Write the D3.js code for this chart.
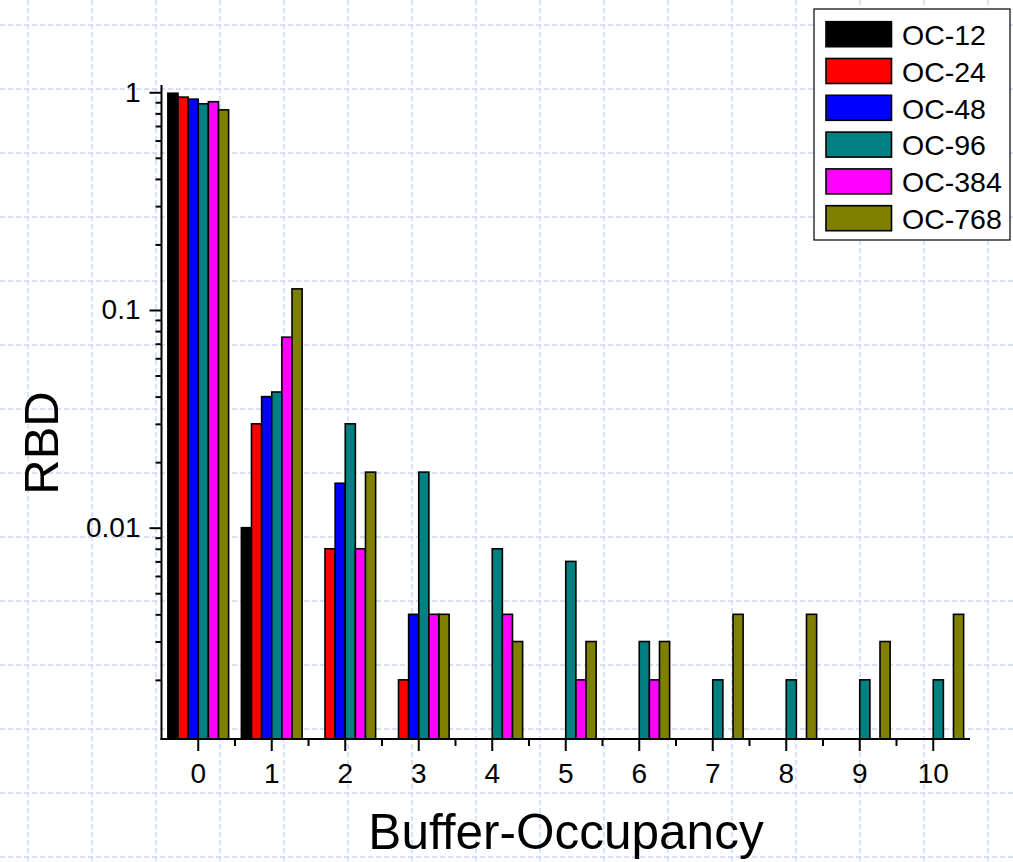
<!DOCTYPE html>
<html>
<head>
<meta charset="utf-8">
<script src="https://cdn.jsdelivr.net/npm/d3@7"></script>
<style>
  html, body { margin: 0; padding: 0; background: #ffffff; }
  svg { display: block; }
  text { font-family: "Liberation Sans", Arial, sans-serif; fill: #000; }
</style>
</head>
<body>
<svg id="chart" width="1013" height="862"></svg>
<script>
// Buffer occupancy categories and RBD per line rate
const categories = ["0", "1", "2", "3", "4", "5", "6", "7", "8", "9", "10"];
const seriesNames = ["OC-12", "OC-24", "OC-48", "OC-96", "OC-384", "OC-768"];
const seriesColors = ["#000000", "#ff0000", "#0000ff", "#008080", "#ff00ff", "#808000"];

const oc12  = [0.99, 0.01, null, null, null, null, null, null, null, null, null];
const oc24  = [0.95, 0.03, 0.008, 0.002, null, null, null, null, null, null, null];
const oc48  = [0.93, 0.04, 0.016, 0.004, null, null, null, null, null, null, null];
const oc96  = [0.885, 0.042, 0.03, 0.018, 0.008, 0.007, 0.003, 0.002, 0.002, 0.002, 0.002];
const oc384 = [0.905, 0.075, 0.008, 0.004, 0.004, 0.002, 0.002, null, null, null, null];
const oc768 = [0.83, 0.125, 0.018, 0.004, 0.003, 0.003, 0.003, 0.004, 0.004, 0.003, 0.004];

const yMajorTicks = [1, 0.1, 0.01];
const yTickLabels = ["1", "0.1", "0.01"];

const seriesValues = [oc12, oc24, oc48, oc96, oc384, oc768];

const W = 1013, H = 862;
const svg = d3.select("#chart");

// Graph-paper backdrop
const grid = svg.append("g")
  .attr("stroke", "#c8d6f6")
  .attr("stroke-width", 1.4)
  .attr("stroke-dasharray", "5,3");
grid.selectAll("line.v").data(d3.range(28, W, 64)).join("line")
  .attr("class", "v").attr("x1", d => d).attr("x2", d => d).attr("y1", 0).attr("y2", H);
grid.selectAll("line.h").data(d3.range(25, H, 64)).join("line")
  .attr("class", "h").attr("y1", d => d).attr("y2", d => d).attr("x1", 0).attr("x2", W);

// Scales
const plotLeft = 161.5, plotRight = 970, plotTop = 85, plotBottom = 739;
const x = d3.scaleBand().domain(categories).range([plotLeft, plotRight]).paddingInner(0).paddingOuter(0);
const xs = d3.scaleBand().domain(seriesNames).range([0, x.bandwidth()]).paddingInner(0).paddingOuter(0.63);
const y = d3.scaleLog().domain([0.00107, 1.08]).range([plotBottom, plotTop]);

// Bars
const bars = [];
seriesNames.forEach((s, si) => {
  seriesValues[si].forEach((v, ci) => {
    if (v != null) bars.push({ series: s, color: seriesColors[si], cat: categories[ci], value: v });
  });
});
svg.append("g").selectAll("rect").data(bars).join("rect")
  .attr("x", d => x(d.cat) + xs(d.series))
  .attr("width", xs.bandwidth())
  .attr("y", d => y(d.value))
  .attr("height", d => plotBottom - y(d.value))
  .attr("fill", d => d.color)
  .attr("stroke", "#000")
  .attr("stroke-width", 1.6);

// Y axis: major and minor log ticks
const minorY = [];
[0.001, 0.01, 0.1].forEach(dec => {
  for (let m = 2; m <= 9; m++) {
    const v = dec * m;
    if (v >= y.domain()[0] && v <= y.domain()[1]) minorY.push(v);
  }
});
const yMinor = svg.append("g").attr("transform", `translate(${plotLeft},0)`)
  .call(d3.axisLeft(y).tickValues(minorY).tickSize(6).tickFormat(""));
const yMajor = svg.append("g").attr("transform", `translate(${plotLeft},0)`)
  .call(d3.axisLeft(y).tickValues(yMajorTicks).tickSize(12).tickPadding(9)
    .tickFormat((d, i) => yTickLabels[i]));
[yMinor, yMajor].forEach(g => {
  g.selectAll(".tick line").attr("stroke", "#000").attr("stroke-width", 2);
  g.select(".domain").remove();
});
yMajor.selectAll(".tick text")
  .style("font-family", '"Liberation Sans", Arial, sans-serif')
  .style("font-size", "28px").attr("fill", "#000");

// X axis: major ticks at group centres, minor ticks at group boundaries
const xMajor = svg.append("g").attr("transform", `translate(0,${plotBottom})`)
  .call(d3.axisBottom(x).tickSize(12).tickPadding(12));
xMajor.select(".domain").remove();
xMajor.selectAll(".tick line").attr("stroke", "#000").attr("stroke-width", 2);
xMajor.selectAll(".tick text")
  .style("font-family", '"Liberation Sans", Arial, sans-serif')
  .style("font-size", "28px").attr("fill", "#000");

const boundaries = categories.slice(1).map(c => x(c));
svg.append("g").selectAll("line").data(boundaries).join("line")
  .attr("x1", d => d).attr("x2", d => d)
  .attr("y1", plotBottom).attr("y2", plotBottom + 7)
  .attr("stroke", "#000").attr("stroke-width", 2);

// Axis lines
svg.append("line").attr("x1", plotLeft).attr("x2", plotLeft)
  .attr("y1", plotTop).attr("y2", plotBottom + 1)
  .attr("stroke", "#000").attr("stroke-width", 2);
svg.append("line").attr("x1", plotLeft - 1).attr("x2", plotRight)
  .attr("y1", plotBottom).attr("y2", plotBottom)
  .attr("stroke", "#000").attr("stroke-width", 2);

// Axis titles
svg.append("text")
  .attr("transform", "translate(58,443) rotate(-90)")
  .attr("text-anchor", "middle")
  .style("font-size", "49px")
  .text("RBD");
svg.append("text")
  .attr("x", 566).attr("y", 849)
  .attr("text-anchor", "middle")
  .style("font-size", "49.5px")
  .text("Buffer-Occupancy");

// Legend
const legend = svg.append("g");
legend.append("rect")
  .attr("x", 814).attr("y", 9).attr("width", 196).attr("height", 231)
  .attr("fill", "#fff").attr("stroke", "#000").attr("stroke-width", 1.2);
const rows = legend.selectAll("g.row").data(seriesNames).join("g")
  .attr("class", "row")
  .attr("transform", (d, i) => `translate(826,${21.7 + i * 36.8})`);
rows.append("rect")
  .attr("width", 65.5).attr("height", 25)
  .attr("fill", (d, i) => seriesColors[i])
  .attr("stroke", "#000").attr("stroke-width", 1.6);
rows.append("text")
  .attr("x", 76).attr("y", 23.3)
  .style("font-size", "28.5px")
  .text(d => d);
</script>
</body>
</html>
